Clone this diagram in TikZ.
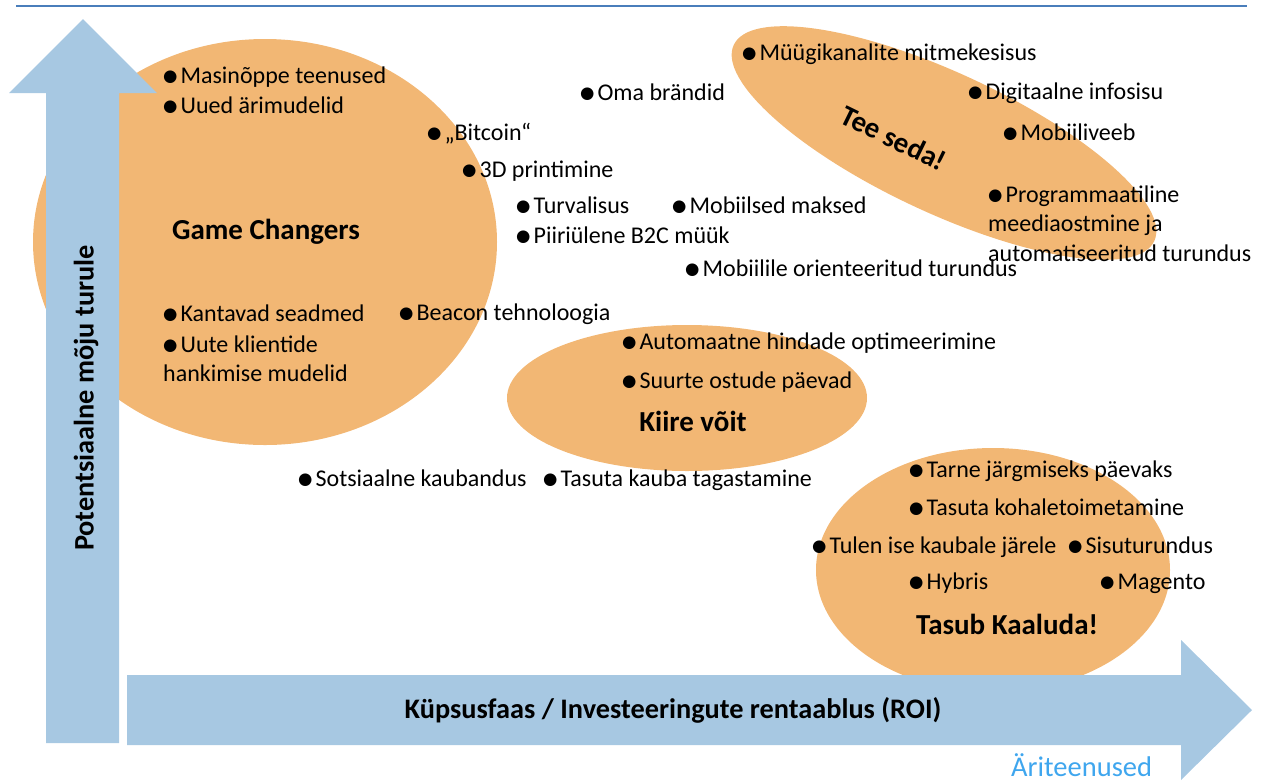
\documentclass[tikz,border=0pt]{standalone}
\usepackage{fontspec}
\setmainfont{Carlito}
\newfontfamily\symfont{DejaVu Sans}
\definecolor{blob}{HTML}{F2B774}
\definecolor{arr}{HTML}{A7C8E2}
\definecolor{topline}{HTML}{4A7EBB}
\definecolor{corp}{HTML}{3FA6EE}
\newcommand{\bul}{\raisebox{1.2pt}{\symfont\fontsize{16.5}{16.5}\selectfont ●}\hspace{3pt}}
\tikzset{
  item/.style={anchor=base west, inner sep=0pt, font=\fontsize{24}{29.5}\selectfont, align=left},
  title/.style={anchor=base, inner sep=0pt, font=\fontsize{29}{32}\selectfont\bfseries},
  axlabel/.style={anchor=center, inner sep=0pt, font=\fontsize{28.3}{32}\selectfont\bfseries},
}
\begin{document}
\begin{tikzpicture}[x=1pt,y=-1pt]
\useasboundingbox (0,0) rectangle (1264,780);
% top line
\draw[topline, line width=2pt] (16,6) -- (1247,6);
% blobs
\fill[blob] (265,242) ellipse [x radius=232, y radius=203];
\fill[blob, rotate around={-25:(944,143)}] (944,143) ellipse [x radius=232, y radius=70];
\fill[blob] (687,398) ellipse [x radius=180, y radius=73];
\fill[blob] (993,570) ellipse [x radius=177, y radius=122];
% arrows
\fill[arr] (46,743) -- (46,93) -- (9,93) -- (83,19) -- (157,93) -- (119,93) -- (119,743) -- cycle;
\fill[arr] (127,675) -- (1181,675) -- (1181,640) -- (1252,710) -- (1181,780) -- (1181,745) -- (127,745) -- cycle;
% axis labels
\node[axlabel, rotate=90] (yax) at (86,398) {Potentsiaalne mõju turule};
\node[axlabel] (xax) at (673,710) {Küpsusfaas / Investeeringute rentaablus (ROI)};
\node[anchor=base west, inner sep=0pt, text=corp, font=\fontsize{28.5}{32}\selectfont] (corp) at (1011,776) {Äriteenused};
% group titles
\node[title] (gc) at (266,239) {Game Changers};
\node[title, anchor=center, rotate=-26] (ts) at (894,138) {Tee seda!};
\node[title] (kv) at (693,431) {Kiire võit};
\node[title] (tk) at (1007,634) {Tasub Kaaluda!};
% items
\node[item] (i1) at (163,83) {\bul Masinõppe teenused};
\node[item] (i2) at (163,113) {\bul Uued ärimudelid};
\node[item] (i3) at (580,100) {\bul Oma brändid};
\node[item] (i4) at (427,140) {\bul „Bitcoin“};
\node[item] (i5) at (462,177) {\bul 3D printimine};
\node[item] (i6) at (516,213) {\bul Turvalisus};
\node[item] (i7) at (672,213) {\bul Mobiilsed maksed};
\node[item] (i8) at (516,243) {\bul Piiriülene B2C müük};
\node[item] (i9) at (685,276) {\bul Mobiilile orienteeritud turundus};
\node[item] (i10) at (163,321) {\bul Kantavad seadmed};
\node[item] (i11) at (163,381.5) {\bul Uute klientide\\hankimise mudelid};
\node[item] (i12) at (399,320) {\bul Beacon tehnoloogia};
\node[item] (i13) at (742,60) {\bul Müügikanalite mitmekesisus};
\node[item] (i14) at (968,99) {\bul Digitaalne infosisu};
\node[item] (i15) at (1003,140) {\bul Mobiiliveeb};
\node[item] (i16) at (988,261) {\bul Programmaatiline\\meediaostmine ja\\automatiseeritud turundus};
\node[item] (i17) at (622,349) {\bul Automaatne hindade optimeerimine};
\node[item] (i18) at (622,388) {\bul Suurte ostude päevad};
\node[item] (i19) at (298,486) {\bul Sotsiaalne kaubandus};
\node[item] (i20) at (543,486) {\bul Tasuta kauba tagastamine};
\node[item] (i21) at (909,477) {\bul Tarne järgmiseks päevaks};
\node[item] (i22) at (909,515) {\bul Tasuta kohaletoimetamine};
\node[item] (i23) at (812,553) {\bul Tulen ise kaubale järele};
\node[item] (i24) at (1068,553) {\bul Sisuturundus};
\node[item] (i25) at (909,589) {\bul Hybris};
\node[item] (i26) at (1100,589) {\bul Magento};
\end{tikzpicture}
\end{document}
